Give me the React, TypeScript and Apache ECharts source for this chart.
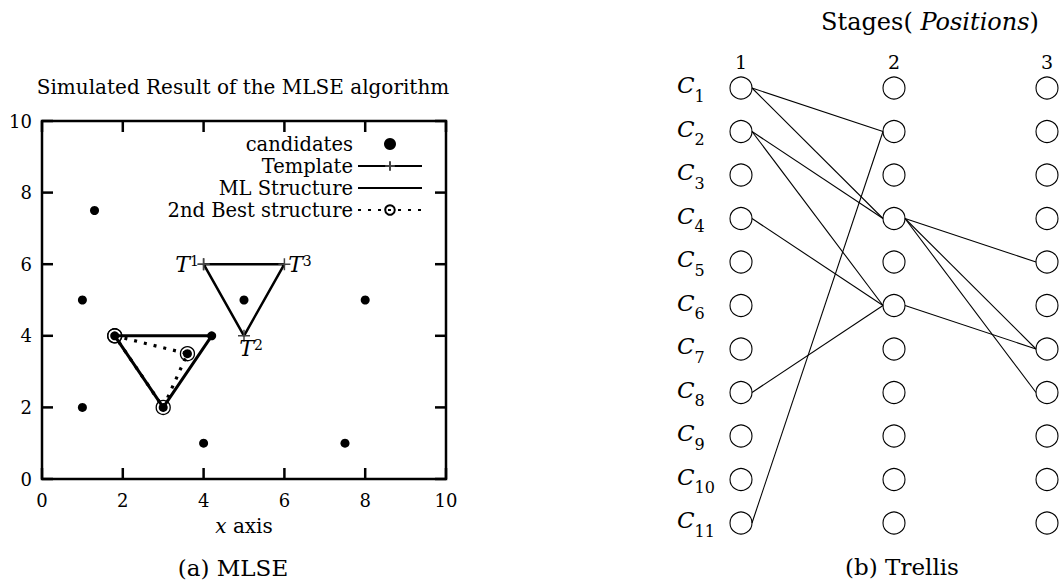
import React, { useEffect, useRef } from 'react';
import * as echarts from 'echarts';

// ---------- data: (a) MLSE ----------
const candidatesX = [1.3, 1, 5, 8, 1.8, 4.2, 3.6, 1, 3, 4, 7.5];
const candidatesY = [7.5, 5, 5, 5, 4, 4, 3.5, 2, 2, 1, 1];
const templateX = [4, 5, 6, 4];
const templateY = [6, 4, 6, 6];
const templateLabels = ['1', '2', '3', ''];
const mlX = [1.8, 4.2, 3, 1.8];
const mlY = [4, 4, 2, 4];
const secondX = [1.8, 3.6, 3, 1.8];
const secondY = [4, 3.5, 2, 4];
const tickValues = [0, 2, 4, 6, 8, 10];
const seriesNames = ['candidates', 'Template', 'ML Structure', '2nd Best structure'];

// ---------- data: (b) Trellis ----------
const stages = ['1', '2', '3'];
const candidateIds = ['1', '2', '3', '4', '5', '6', '7', '8', '9', '10', '11'];
const edgeFromStage = [0, 0, 0, 0, 0, 0, 0, 1, 1, 1, 1];
const edgeFromCand = [0, 0, 1, 1, 3, 7, 10, 3, 3, 3, 5];
const edgeToCand = [1, 3, 3, 5, 5, 5, 1, 4, 6, 7, 6];

const FONT = 'DejaVu Serif';
const R = 11;
const TICK = 11;
const SPLIT = 530;

export default function App() {
  const refA = useRef<HTMLDivElement>(null);
  const refB = useRef<HTMLDivElement>(null);
  useEffect(() => {
    if (!refA.current || !refB.current) return;
    const chartA = echarts.init(refA.current, undefined, { renderer: 'svg' });
    const chartB = echarts.init(refB.current, undefined, { renderer: 'svg' });
    const zip = (xs: number[], ys: number[]) => xs.map((x, i) => [x, ys[i]]);
    const tPos = ['left', 'bottom', 'right', 'left'];
    const tOff = [[4, 0], [7, -7], [-5, 0], [0, 0]];
    const tMin = tickValues[0];
    const tMax = tickValues[tickValues.length - 1];

    const valueAxis = (position: string) => ({
      type: 'value', min: tMin, max: tMax, interval: 2, position,
      axisLine: { show: false, onZero: false },
      axisTick: { show: false },
      axisLabel: { show: true, fontFamily: FONT, fontSize: 18, color: '#000', margin: position === 'bottom' ? 12 : 10 },
      splitLine: { show: false },
    });

    // ---------------- panel (a) ----------------
    const optionA: any = {
      animation: false,
      backgroundColor: '#fff',
      title: [
        { text: 'Simulated Result of the MLSE algorithm', left: 243, top: 87, textAlign: 'center', textVerticalAlign: 'middle', padding: 0,
          textStyle: { fontFamily: FONT, fontSize: 20, fontWeight: 'normal', color: '#000' } },
        { text: '(a) MLSE', left: 233, top: 568, textAlign: 'center', textVerticalAlign: 'middle', padding: 0,
          textStyle: { fontFamily: FONT, fontSize: 23, fontWeight: 'normal', color: '#000' } },
      ],
      legend: {
        data: [
          { name: seriesNames[0] },
          { name: seriesNames[1] },
          { name: seriesNames[2], itemStyle: { color: 'rgba(0,0,0,0)', borderWidth: 0 } },
          { name: seriesNames[3] },
        ],
        orient: 'vertical', align: 'right', right: SPLIT - 423, top: 134,
        itemWidth: 64, itemHeight: 12, itemGap: 2, padding: 0, selectedMode: false,
        textStyle: { fontFamily: FONT, fontSize: 19.5, color: '#000', lineHeight: 20 },
      },
      grid: { left: 42, right: SPLIT - 446, top: 121, bottom: 108 },
      xAxis: {
        ...valueAxis('bottom'),
        name: '{i|x} axis', nameLocation: 'middle', nameGap: 37,
        nameTextStyle: { fontFamily: FONT, fontSize: 20, color: '#000',
          rich: { i: { fontFamily: FONT, fontSize: 20, fontStyle: 'italic', color: '#000' } } },
      },
      yAxis: valueAxis('left'),
      series: [
        {
          name: seriesNames[0], type: 'scatter', z: 5, clip: false,
          symbol: 'circle', symbolSize: 9, itemStyle: { color: '#000', opacity: 1 },
          data: zip(candidatesX, candidatesY),
        },
        {
          name: seriesNames[1], type: 'line', z: 3, clip: false,
          symbol: 'path://M5,0L5,10M0,5L10,5', symbolSize: 12, showAllSymbol: true,
          itemStyle: { color: '#444', borderColor: '#444', borderWidth: 1.5 },
          lineStyle: { color: '#000', width: 2.5 },
          data: zip(templateX, templateY).map((p, i) => ({
            value: p,
            label: {
              show: templateLabels[i] !== '', position: tPos[i], offset: tOff[i], distance: 2,
              formatter: `{t|T}{s|${templateLabels[i]}}`,
              rich: {
                t: { fontFamily: FONT, fontSize: 22, fontStyle: 'italic', color: '#000' },
                s: { fontFamily: FONT, fontSize: 14, color: '#000', padding: [0, 0, 7, 0] },
              },
            },
          })),
        },
        {
          name: seriesNames[2], type: 'line', z: 3, clip: false,
          symbol: 'none', itemStyle: { color: 'rgba(0,0,0,0)' },
          lineStyle: { color: '#000', width: 3 },
          data: zip(mlX, mlY),
        },
        {
          name: seriesNames[3], type: 'line', z: 4, clip: false,
          symbol: 'circle', symbolSize: 14, showAllSymbol: true,
          itemStyle: { color: 'rgba(0,0,0,0)', borderColor: '#000', borderWidth: 1.3 },
          lineStyle: { color: '#000', width: 3.2, type: [3, 7], cap: 'butt' },
          data: zip(secondX, secondY),
        },
      ],
    };
    chartA.setOption(optionA);

    // frame and inward ticks, placed through the chart's own scales
    const px = (x: number, y: number) => chartA.convertToPixel({ gridIndex: 0 }, [x, y]) as number[];
    const lo = px(tMin, tMin);
    const hi = px(tMax, tMax);
    const st = { stroke: '#000', lineWidth: 2.5, fill: 'none' };
    const elements: any[] = [
      { type: 'rect', z: 100, silent: true,
        shape: { x: lo[0], y: hi[1], width: hi[0] - lo[0], height: lo[1] - hi[1] },
        style: { ...st } },
    ];
    tickValues.forEach((v) => {
      const b = px(v, tMin);
      const t = px(v, tMax);
      const l = px(tMin, v);
      const r = px(tMax, v);
      elements.push(
        { type: 'line', z: 100, silent: true, shape: { x1: b[0], y1: b[1], x2: b[0], y2: b[1] - TICK }, style: { ...st } },
        { type: 'line', z: 100, silent: true, shape: { x1: t[0], y1: t[1], x2: t[0], y2: t[1] + TICK }, style: { ...st } },
        { type: 'line', z: 100, silent: true, shape: { x1: l[0], y1: l[1], x2: l[0] + TICK, y2: l[1] }, style: { ...st } },
        { type: 'line', z: 100, silent: true, shape: { x1: r[0], y1: r[1], x2: r[0] - TICK, y2: r[1] }, style: { ...st } },
      );
    });
    chartA.setOption({ graphic: { elements } });

    // ---------------- panel (b) ----------------
    const optionB: any = {
      animation: false,
      backgroundColor: '#fff',
      title: [
        { text: '(b) Trellis', left: 902 - SPLIT, top: 567, textAlign: 'center', textVerticalAlign: 'middle', padding: 0,
          textStyle: { fontFamily: FONT, fontSize: 23, fontWeight: 'normal', color: '#000' } },
        { text: 'Stages( {i|Positions})', left: 930 - SPLIT, top: 22, textAlign: 'center', textVerticalAlign: 'middle', padding: 0,
          textStyle: { fontFamily: FONT, fontSize: 24, fontWeight: 'normal', color: '#000',
            rich: { i: { fontFamily: FONT, fontSize: 24, fontStyle: 'italic', color: '#000', letterSpacing: 1 } } } },
      ],
      grid: { left: 741 - SPLIT, right: 14, top: 88, bottom: 64 },
      xAxis: {
        type: 'category', data: stages, boundaryGap: false, position: 'top',
        axisLine: { show: false }, axisTick: { show: false }, splitLine: { show: false },
        axisLabel: { fontFamily: FONT, fontSize: 19, color: '#000', margin: 17 },
      },
      yAxis: {
        type: 'category', data: candidateIds, boundaryGap: false, inverse: true, position: 'left',
        axisLine: { show: false }, axisTick: { show: false }, splitLine: { show: false },
        axisLabel: { interval: 0, align: 'left', margin: 64,
          formatter: (v: string) => `{c|C}{s|${v}}`,
          rich: {
            c: { fontFamily: FONT, fontSize: 23, fontStyle: 'italic', color: '#000', padding: [0, 0, 6, 0] },
            s: { fontFamily: FONT, fontSize: 16, color: '#000', padding: [16, 0, 0, 0] },
          } },
      },
      series: [
        {
          type: 'custom', z: 2, clip: false,
          renderItem: (params: any, api: any) => {
            const a = api.coord([api.value(0), api.value(1)]);
            const b = api.coord([api.value(2), api.value(3)]);
            return {
              type: 'line',
              shape: { x1: a[0] + R, y1: a[1], x2: b[0] - R, y2: b[1] },
              style: { stroke: '#000', lineWidth: 1.1 },
            };
          },
          data: edgeFromStage.map((s, i) => [s, edgeFromCand[i], s + 1, edgeToCand[i]]),
        },
        {
          type: 'scatter', z: 3, clip: false,
          symbol: 'circle', symbolSize: 2 * R,
          itemStyle: { color: 'rgba(0,0,0,0)', borderColor: '#000', borderWidth: 1.1, opacity: 1 },
          data: stages.flatMap((_, i) => candidateIds.map((__, j) => [i, j])),
        },
      ],
    };
    chartB.setOption(optionB);

    return () => {
      chartA.dispose();
      chartB.dispose();
    };
  }, []);
  return (
    <>
      <div ref={refA} style={{ position: 'absolute', left: 0, top: 0, width: SPLIT, height: 587 }} />
      <div ref={refB} style={{ position: 'absolute', left: SPLIT, top: 0, width: 1061 - SPLIT, height: 587 }} />
    </>
  );
}
